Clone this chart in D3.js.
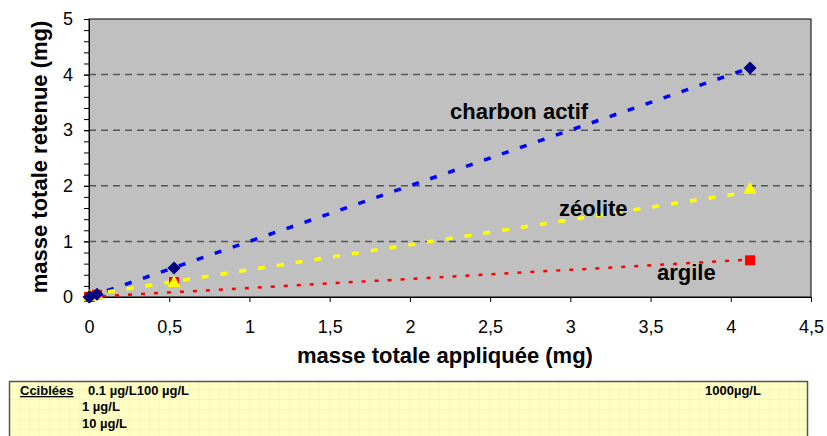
<!DOCTYPE html>
<html>
<head>
    <meta charset="utf-8">
    <title>Masse retenue vs masse appliquée</title>
    <script src="https://d3js.org/d3.v7.min.js"></script>
    <style>
        body { margin: 0; background: #fff; }
        svg text { font-family: "Liberation Sans", Arial, sans-serif; }
        .tick text { font-size: 18px; fill: #000; }
        .axis-title { font-size: 22px; font-weight: bold; }
        .series-label { font-size: 22px; font-weight: bold; }
        .note { font-size: 13px; font-weight: bold; }
    </style>
</head>
<body>
<div id="chart"></div>
<script>
// masse appliquée (mg) for 0.1, 1, 10, 100, 1000 µg/L
const appliedMass = [0.0005, 0.005, 0.05, 0.53, 4.12];
const charbonActif = [0.0005, 0.005, 0.05, 0.52, 4.12];
const zeolite = [0.0002, 0.002, 0.02, 0.25, 1.93];
const argile = [0.0004, 0.004, 0.04, 0.27, 0.66];

// trend lines
const seriesNames = ["charbon actif", "zéolite", "argile"];
const trendSlope = [1.0, 0.45, 0.163];
const trendIntercept = [0.0, 0.04, 0.0];

const xTicks = [0, 0.5, 1, 1.5, 2, 2.5, 3, 3.5, 4, 4.5];
const yTicks = [0, 1, 2, 3, 4, 5];
const yMinorTicks = d3.range(0, 5.01, 0.2);

const W = 827, H = 436;
const margin = {top: 19, right: 16, bottom: 139, left: 89};
const width = W - margin.left - margin.right,
      height = H - margin.top - margin.bottom;

const svg = d3.select("#chart").append("svg")
    .attr("width", W)
    .attr("height", H);

const g = svg.append("g")
    .attr("transform", `translate(${margin.left},${margin.top})`);

const x = d3.scaleLinear().domain([0, 4.5]).range([0, width]);
const y = d3.scaleLinear().domain([0, 5]).range([height, 0]);

// plot area
g.append("rect")
    .attr("width", width)
    .attr("height", height)
    .attr("fill", "#c0c0c0");

// gridlines
g.selectAll(".grid")
    .data(yTicks.filter(d => d > 0 && d < 5))
    .enter().append("line")
    .attr("x1", 0).attr("x2", width)
    .attr("y1", d => y(d)).attr("y2", d => y(d))
    .attr("stroke", "#555")
    .attr("stroke-width", 1.5)
    .attr("stroke-dasharray", "7,5");

g.append("rect")
    .attr("width", width)
    .attr("height", height)
    .attr("fill", "none")
    .attr("stroke", "#000")
    .attr("stroke-width", 1);

// axes
const fmt = d => String(d).replace(".", ",");
const xAxis = g.append("g")
    .attr("transform", `translate(0,${height})`)
    .call(d3.axisBottom(x).tickValues(xTicks).tickFormat(fmt).tickSize(5).tickPadding(18));
xAxis.select(".domain").attr("stroke", "#000");

g.append("g")
    .call(d3.axisLeft(y).tickValues(yMinorTicks).tickFormat("").tickSize(5))
    .select(".domain").remove();
const yAxis = g.append("g")
    .call(d3.axisLeft(y).tickValues(yTicks).tickFormat(d3.format("d")).tickSize(5).tickPadding(11));
yAxis.select(".domain").attr("stroke", "#000");

// trend lines
const trendStyles = [
    {color: "#0000ff", width: 3.5, dash: "7,12"},
    {color: "#ffff00", width: 3.5, dash: "7,12"},
    {color: "#ff0000", width: 2.5, dash: "4,9"}
];
const xExtent = d3.extent(appliedMass);
seriesNames.forEach((name, i) => {
    const pts = xExtent.map(v => [v, trendSlope[i] * v + trendIntercept[i]]);
    g.append("path")
        .attr("d", d3.line().x(d => x(d[0])).y(d => y(d[1]))(pts))
        .attr("fill", "none")
        .attr("stroke", trendStyles[i].color)
        .attr("stroke-width", trendStyles[i].width)
        .attr("stroke-dasharray", trendStyles[i].dash);
});

// markers
const seriesData = [charbonActif, zeolite, argile];
const markers = [
    {type: d3.symbolSquare, size: 100, color: "#ff0000", rotate: 0, series: 2},
    {type: d3.symbolTriangle, size: 75, color: "#ffff00", rotate: 0, series: 1},
    {type: d3.symbolSquare, size: 85, color: "#000080", rotate: 45, series: 0}
];
markers.forEach(m => {
    g.selectAll(null)
        .data(appliedMass.map((v, j) => [v, seriesData[m.series][j]]))
        .enter().append("path")
        .attr("d", d3.symbol().type(m.type).size(m.size))
        .attr("transform", d => `translate(${x(d[0])},${y(d[1])}) rotate(${m.rotate})`)
        .attr("fill", m.color);
});

// series labels
const labelPos = [[2.25, 3.2], [2.93, 1.45], [3.54, 0.3]];
seriesNames.forEach((name, i) => {
    g.append("text")
        .attr("class", "series-label")
        .attr("x", x(labelPos[i][0]))
        .attr("y", y(labelPos[i][1]))
        .text(name);
});

// axis titles
svg.append("text")
    .attr("class", "axis-title")
    .attr("x", 445).attr("y", 363)
    .attr("text-anchor", "middle")
    .text("masse totale appliquée (mg)");
svg.append("text")
    .attr("class", "axis-title")
    .attr("transform", "translate(47,157) rotate(-90)")
    .attr("text-anchor", "middle")
    .text("masse totale retenue (mg)");

// concentration note box
const defs = svg.append("defs");
const pat = defs.append("pattern")
    .attr("id", "grid")
    .attr("width", 10).attr("height", 10)
    .attr("patternUnits", "userSpaceOnUse");
pat.append("rect").attr("width", 10).attr("height", 10).attr("fill", "#ffffc4");
pat.append("path").attr("d", "M10 0V10H0").attr("fill", "none")
    .attr("stroke", "#f4f0a0").attr("stroke-width", 1);

svg.append("rect")
    .attr("x", 9.5).attr("y", 381.5)
    .attr("width", 798).attr("height", 60)
    .attr("fill", "url(#grid)")
    .attr("stroke", "#555")
    .attr("stroke-width", 1.5);

const noteLines = [
    {x: 20, y: 395, text: "Cciblées", underline: true},
    {x: 88, y: 395, text: "0.1 µg/L100 µg/L"},
    {x: 82, y: 411, text: "1 µg/L"},
    {x: 82, y: 428, text: "10 µg/L"},
    {x: 705, y: 395, text: "1000µg/L"}
];
noteLines.forEach(n => {
    svg.append("text")
        .attr("class", "note")
        .attr("x", n.x).attr("y", n.y)
        .style("text-decoration", n.underline ? "underline" : null)
        .text(n.text);
});
</script>
</body>
</html>
